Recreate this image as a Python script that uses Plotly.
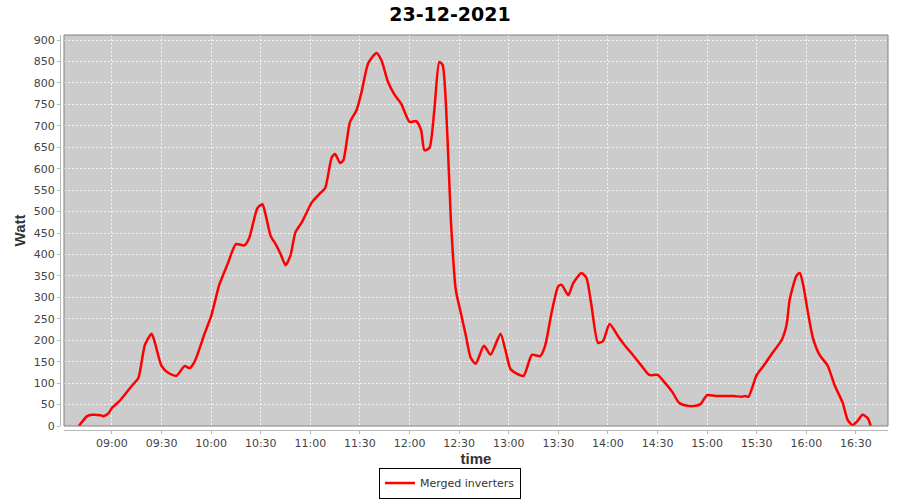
import plotly.graph_objects as go

# readings, roughly every 5 minutes
times = ["08:40", "08:45", "08:48", "08:53", "08:55", "08:58", "09:00", "09:05", "09:10", "09:13",
         "09:16", "09:20", "09:24", "09:26", "09:30", "09:34", "09:39", "09:44", "09:47", "09:50",
         "09:56", "10:00", "10:05", "10:10", "10:15", "10:20", "10:23", "10:28", "10:31", "10:33",
         "10:36", "10:39", "10:42", "10:45", "10:48", "10:51", "10:55", "11:01", "11:06", "11:09",
         "11:13", "11:15", "11:18", "11:20", "11:24", "11:28", "11:31", "11:35", "11:40", "11:43",
         "11:47", "11:51", "11:55", "12:00", "12:04", "12:07", "12:09", "12:12", "12:15", "12:18",
         "12:20", "12:23", "12:25", "12:28", "12:31", "12:34", "12:37", "12:40", "12:45", "12:49",
         "12:55", "12:58", "13:01", "13:04", "13:09", "13:14", "13:19", "13:22", "13:26", "13:30",
         "13:32", "13:36", "13:39", "13:44", "13:47", "13:50", "13:54", "13:57", "14:01", "14:06",
         "14:10", "14:15", "14:20", "14:25", "14:30", "14:34", "14:39", "14:43", "14:48", "14:53",
         "14:56", "15:00", "15:05", "15:10", "15:16", "15:21", "15:23", "15:25", "15:30", "15:35",
         "15:40", "15:45", "15:48", "15:50", "15:54", "15:56", "15:58", "16:01", "16:04", "16:08",
         "16:13", "16:17", "16:22", "16:25", "16:28", "16:31", "16:34", "16:37", "16:39"]
watt = [0, 23, 26, 25, 23, 30, 42, 60, 84, 98,
        112, 190, 215, 194, 140, 124, 117, 140, 135, 150,
        215, 256, 330, 378, 424, 421, 438, 508, 517, 492,
        443, 424, 401, 375, 398, 452, 476, 522, 543, 555,
        627, 634, 613, 620, 709, 737, 779, 846, 870, 853,
        802, 772, 751, 709, 711, 690, 643, 648, 737, 849,
        842, 667, 480, 317, 264, 212, 159, 145, 187, 166,
        215, 177, 133, 124, 117, 166, 163, 187, 266, 326,
        329, 305, 333, 357, 345, 282, 194, 198, 238, 210,
        189, 166, 142, 119, 119, 103, 79, 54, 47, 47,
        51, 72, 70, 70, 70, 68, 70, 68, 119, 145,
        173, 200, 235, 296, 350, 357, 331, 264, 205, 166,
        140, 96, 54, 14, 2, 12, 26, 19, 0]

day = "2021-12-23"
x = [day + " " + t for t in times]

tick_font = dict(family="DejaVu Sans", size=11, color="#444444")
label_font = dict(family="Liberation Sans", size=15, color="#333333")

fig = go.Figure()
fig.add_trace(go.Scatter(
    x=x, y=watt, name="Merged inverters", mode="lines",
    line=dict(color="#ff0000", width=2.5, shape="spline", smoothing=0.6),
))

# plot area border
fig.add_shape(type="rect", xref="paper", yref="paper",
              x0=4 / 828, x1=1, y0=4 / 395, y1=1,
              line=dict(color="#808080", width=1), layer="above")

fig.update_layout(
    width=900, height=500,
    margin=dict(l=60, r=12, t=35, b=70, autoexpand=False),
    paper_bgcolor="white", plot_bgcolor="#cccccc",
    title=dict(text="<b>23-12-2021</b>", x=0.5, xanchor="center", y=0.972, yanchor="middle",
               font=dict(family="DejaVu Sans", size=19, color="black")),
    xaxis=dict(
        type="date", domain=[4 / 828, 1], anchor="free", position=0, automargin=False,
        range=[day + " 08:31:00", day + " 16:49:24"],
        tick0=day + " 09:00", dtick=30 * 60 * 1000, tickformat="%H:%M",
        showgrid=True, gridcolor="#f4f4f4", griddash="2px,2px", gridwidth=1,
        showline=True, linecolor="#b8b8b8", linewidth=1,
        ticks="outside", ticklen=3, tickcolor="#b8b8b8",
        tickfont=tick_font, zeroline=False,
        title=dict(text="<b>time</b>", font=label_font, standoff=6),
    ),
    yaxis=dict(
        domain=[4 / 395, 1], anchor="free", position=0, automargin=False,
        range=[0, 911.7], dtick=50,
        showgrid=True, gridcolor="#f4f4f4", griddash="2px,2px", gridwidth=1,
        showline=True, linecolor="#b8b8b8", linewidth=1,
        ticks="outside", ticklen=3, tickcolor="#b8b8b8",
        tickfont=tick_font, zeroline=False,
        title=dict(text="<b>Watt</b>", font=label_font, standoff=3),
    ),
    showlegend=True,
    legend=dict(orientation="h", x=0.5, xanchor="center", xref="container",
                y=0.003, yanchor="bottom", yref="container",
                bordercolor="black", borderwidth=1, bgcolor="white", itemwidth=30,
                font=dict(family="DejaVu Sans", size=11, color="#333333")),
)

# drop the page's default 8px body margin so the figure sits at the window corner
fig.write_html("out.html", config={"displayModeBar": False},
               post_script="document.body.style.margin='0';")
